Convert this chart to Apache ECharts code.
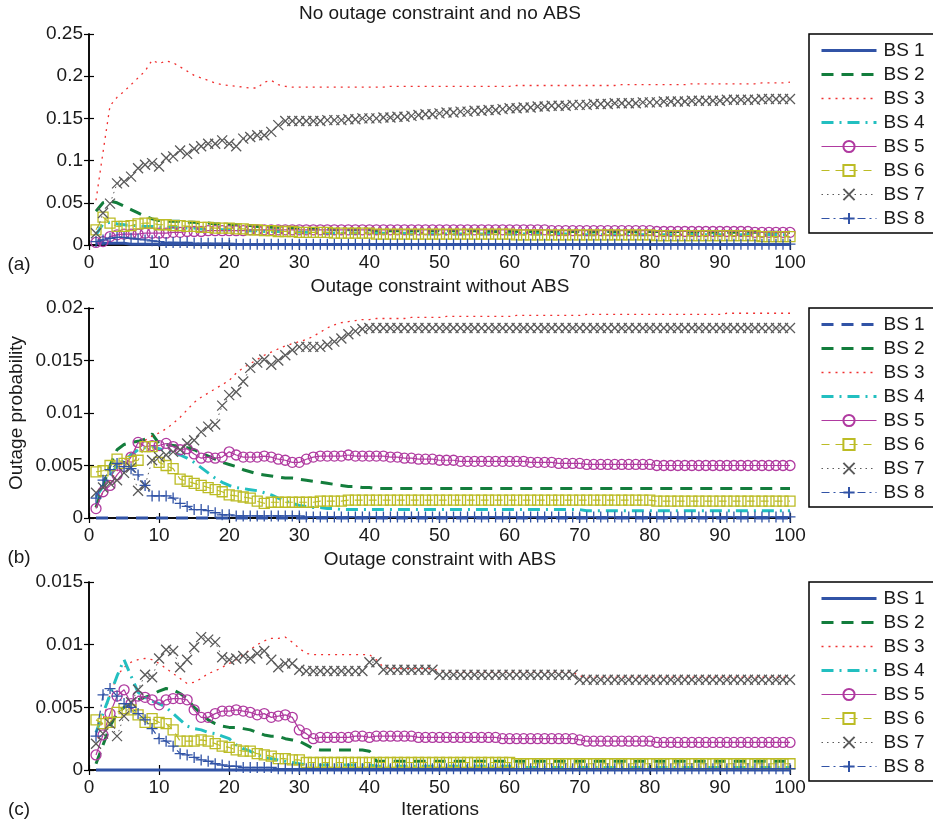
<!DOCTYPE html>
<html><head><meta charset="utf-8">
<script src="https://cdn.jsdelivr.net/npm/echarts@6/dist/echarts.min.js"></script>
<style>html,body{margin:0;padding:0;background:#fff}#c{width:933px;height:826px}</style>
</head><body><div id="c"></div>
<script>
const iterations = [1,2,3,4,5,6,7,8,9,10,11,12,13,14,15,16,17,18,19,20,21,22,23,24,25,26,27,28,29,30,31,32,33,34,35,36,37,38,39,40,41,42,43,44,45,46,47,48,49,50,51,52,53,54,55,56,57,58,59,60,61,62,63,64,65,66,67,68,69,70,71,72,73,74,75,76,77,78,79,80,81,82,83,84,85,86,87,88,89,90,91,92,93,94,95,96,97,98,99,100];
const seriesNames = ['BS 1','BS 2','BS 3','BS 4','BS 5','BS 6','BS 7','BS 8'];
const panelTitles = ['No outage constraint and no ABS','Outage constraint without ABS','Outage constraint with ABS'];
const panelLetters = ['(a)','(b)','(c)'];
const xTicks = [0,10,20,30,40,50,60,70,80,90,100];
const yTicksA = [0,0.05,0.1,0.15,0.2,0.25];
const yTicksB = [0,0.005,0.01,0.015,0.02];
const yTicksC = [0,0.005,0.01,0.015];

// ---- Panel (a): No outage constraint and no ABS ----
const a1 = [0.002,0.002,0.002,0.002,0.002,0.001,0.001,0.001,0.001,0.001,
0.001,0.001,0.001,0.001,0.001,0.001,0.001,0.001,0.001,0.001,
0.0005,0.0005,0.0005,0.0005,0.0005,0.0005,0.0005,0.0005,0.0005,0.0005,
0.0005,0.0005,0.0005,0.0005,0.0005,0.0005,0.0005,0.0005,0.0005,0.0005,
0.0005,0.0005,0.0005,0.0005,0.0005,0.0005,0.0005,0.0005,0.0005,0.0005,
0.0005,0.0005,0.0005,0.0005,0.0005,0.0005,0.0005,0.0005,0.0005,0.0005,
0.0005,0.0005,0.0005,0.0005,0.0005,0.0005,0.0005,0.0005,0.0005,0.0005,
0.0005,0.0005,0.0005,0.0005,0.0005,0.0005,0.0005,0.0005,0.0005,0.0005,
0.0005,0.0005,0.0005,0.0005,0.0005,0.0005,0.0005,0.0005,0.0005,0.0005,
0.0005,0.0005,0.0005,0.0005,0.0005,0.0005,0.0005,0.0005,0.0005,0.0005];
const a2 = [0.040,0.050,0.052,0.050,0.046,0.042,0.038,0.034,0.031,0.029,
0.028,0.028,0.028,0.027,0.027,0.026,0.026,0.025,0.025,0.024,
0.024,0.023,0.023,0.022,0.022,0.021,0.021,0.020,0.020,0.020,
0.019,0.019,0.019,0.019,0.018,0.018,0.018,0.018,0.018,0.018,
0.017,0.017,0.017,0.017,0.017,0.017,0.017,0.017,0.017,0.017,
0.017,0.017,0.017,0.017,0.017,0.016,0.016,0.016,0.016,0.016,
0.016,0.016,0.016,0.016,0.016,0.016,0.016,0.016,0.016,0.016,
0.016,0.016,0.016,0.016,0.016,0.016,0.016,0.016,0.016,0.016,
0.016,0.016,0.016,0.016,0.016,0.015,0.015,0.015,0.015,0.015,
0.015,0.015,0.015,0.015,0.015,0.015,0.015,0.015,0.015,0.015];
const a3 = [0.053,0.110,0.165,0.175,0.182,0.190,0.198,0.206,0.219,0.215,
0.218,0.216,0.211,0.206,0.201,0.198,0.195,0.192,0.190,0.189,
0.188,0.187,0.186,0.186,0.193,0.195,0.190,0.188,0.187,0.187,
0.187,0.187,0.187,0.187,0.187,0.187,0.187,0.187,0.187,0.187,
0.187,0.187,0.188,0.188,0.188,0.188,0.188,0.188,0.188,0.188,
0.188,0.188,0.188,0.188,0.188,0.188,0.188,0.188,0.188,0.188,
0.189,0.189,0.189,0.189,0.189,0.189,0.189,0.189,0.189,0.189,
0.189,0.189,0.189,0.189,0.189,0.190,0.190,0.190,0.190,0.190,
0.190,0.190,0.190,0.190,0.190,0.191,0.191,0.191,0.191,0.191,
0.191,0.191,0.191,0.191,0.191,0.192,0.192,0.192,0.192,0.193];
const a4 = [0.012,0.025,0.027,0.025,0.024,0.023,0.023,0.022,0.022,0.021,
0.021,0.021,0.020,0.020,0.020,0.019,0.019,0.019,0.018,0.018,
0.018,0.017,0.017,0.017,0.016,0.016,0.016,0.015,0.015,0.015,
0.015,0.015,0.014,0.014,0.014,0.014,0.014,0.014,0.014,0.014,
0.014,0.014,0.014,0.014,0.014,0.013,0.013,0.013,0.013,0.013,
0.013,0.013,0.013,0.013,0.013,0.013,0.013,0.013,0.013,0.013,
0.013,0.013,0.013,0.013,0.013,0.013,0.013,0.013,0.013,0.013,
0.012,0.012,0.012,0.012,0.012,0.012,0.012,0.012,0.012,0.012,
0.012,0.012,0.012,0.012,0.012,0.012,0.012,0.012,0.012,0.012,
0.012,0.012,0.012,0.012,0.012,0.012,0.012,0.012,0.012,0.012];
const a5 = [0.003,0.004,0.010,0.012,0.013,0.013,0.013,0.014,0.014,0.014,
0.014,0.015,0.015,0.016,0.016,0.016,0.017,0.017,0.017,0.017,
0.017,0.017,0.018,0.018,0.018,0.018,0.018,0.018,0.018,0.018,
0.018,0.018,0.018,0.018,0.018,0.018,0.018,0.018,0.018,0.018,
0.018,0.018,0.018,0.018,0.018,0.018,0.018,0.018,0.018,0.018,
0.018,0.018,0.018,0.018,0.018,0.018,0.018,0.018,0.018,0.018,
0.018,0.018,0.018,0.018,0.018,0.017,0.017,0.017,0.017,0.017,
0.017,0.017,0.017,0.017,0.017,0.017,0.017,0.017,0.017,0.017,
0.016,0.016,0.016,0.016,0.016,0.016,0.016,0.016,0.016,0.016,
0.016,0.016,0.016,0.016,0.015,0.015,0.015,0.015,0.015,0.015];
const a6 = [0.018,0.033,0.026,0.022,0.022,0.023,0.025,0.026,0.026,0.024,
0.024,0.023,0.023,0.022,0.022,0.021,0.021,0.020,0.020,0.020,
0.019,0.019,0.018,0.018,0.017,0.017,0.016,0.016,0.016,0.015,
0.015,0.015,0.015,0.015,0.014,0.014,0.014,0.014,0.014,0.014,
0.013,0.013,0.013,0.013,0.013,0.013,0.013,0.013,0.013,0.013,
0.013,0.013,0.013,0.013,0.013,0.013,0.013,0.013,0.013,0.013,
0.012,0.012,0.012,0.012,0.012,0.012,0.012,0.012,0.012,0.012,
0.012,0.012,0.012,0.012,0.012,0.012,0.012,0.012,0.012,0.012,
0.011,0.011,0.011,0.011,0.011,0.011,0.011,0.011,0.011,0.011,
0.011,0.011,0.011,0.011,0.011,0.010,0.010,0.010,0.010,0.010];
const a7 = [0.014,0.038,0.049,0.073,0.075,0.081,0.091,0.095,0.097,0.093,
0.103,0.105,0.112,0.108,0.114,0.117,0.120,0.120,0.124,0.120,
0.117,0.126,0.128,0.130,0.130,0.134,0.142,0.147,0.147,0.147,
0.147,0.147,0.147,0.148,0.148,0.148,0.149,0.149,0.150,0.150,
0.150,0.151,0.151,0.152,0.152,0.153,0.154,0.155,0.155,0.156,
0.157,0.157,0.158,0.158,0.159,0.159,0.160,0.160,0.161,0.162,
0.162,0.163,0.163,0.164,0.164,0.165,0.165,0.165,0.166,0.166,
0.166,0.167,0.167,0.167,0.168,0.168,0.168,0.168,0.169,0.169,
0.169,0.170,0.170,0.170,0.170,0.171,0.171,0.171,0.171,0.171,
0.172,0.172,0.172,0.172,0.172,0.173,0.173,0.173,0.173,0.173];
const a8 = [0.004,0.006,0.008,0.009,0.009,0.008,0.007,0.006,0.005,0.004,
0.003,0.003,0.003,0.003,0.002,0.002,0.002,0.002,0.002,0.002,
0.001,0.001,0.001,0.001,0.001,0.001,0.001,0.001,0.001,0.001,
0.001,0.001,0.001,0.001,0.001,0.001,0.001,0.001,0.001,0.001,
0.001,0.001,0.001,0.001,0.001,0.001,0.001,0.001,0.001,0.001,
0.001,0.001,0.001,0.001,0.001,0.001,0.001,0.001,0.001,0.001,
0.001,0.001,0.001,0.001,0.001,0.001,0.001,0.001,0.001,0.001,
0.001,0.001,0.001,0.001,0.001,0.001,0.001,0.001,0.001,0.001,
0.001,0.001,0.001,0.001,0.001,0.001,0.001,0.001,0.001,0.001,
0.001,0.001,0.001,0.001,0.001,0.001,0.001,0.001,0.001,0.001];

// ---- Panel (b): Outage constraint without ABS ----
const b1 = [0,0,0,0,0,0,0,0,0,0, 0,0,0,0,0,0,0,0,0,0, 0,0,0,0,0,0,0,0,0,0, 0,0,0,0,0,0,0,0,0,0, 0,0,0,0,0,0,0,0,0,0,
0,0,0,0,0,0,0,0,0,0, 0,0,0,0,0,0,0,0,0,0, 0,0,0,0,0,0,0,0,0,0, 0,0,0,0,0,0,0,0,0,0, 0,0,0,0,0,0,0,0,0,0];
const b2 = [0.0010,0.0030,0.0050,0.0065,0.0070,0.0072,0.0073,0.0075,0.0080,0.0071,
0.0070,0.0069,0.0068,0.0067,0.0065,0.0062,0.0059,0.0056,0.0053,0.0051,
0.0049,0.0046,0.0044,0.0042,0.0041,0.0040,0.0039,0.0038,0.0038,0.0037,
0.0036,0.0035,0.0034,0.0033,0.0032,0.0031,0.0030,0.0030,0.0029,0.0029,
0.0028,0.0028,0.0028,0.0028,0.0028,0.0028,0.0028,0.0028,0.0028,0.0028,
0.0028,0.0028,0.0028,0.0028,0.0028,0.0028,0.0028,0.0028,0.0028,0.0028,
0.0028,0.0028,0.0028,0.0028,0.0028,0.0028,0.0028,0.0028,0.0028,0.0028,
0.0028,0.0028,0.0028,0.0028,0.0028,0.0028,0.0028,0.0028,0.0028,0.0028,
0.0028,0.0028,0.0028,0.0028,0.0028,0.0028,0.0028,0.0028,0.0028,0.0028,
0.0028,0.0028,0.0028,0.0028,0.0028,0.0028,0.0028,0.0028,0.0028,0.0028];
const b3 = [0.0010,0.0025,0.0035,0.0045,0.0055,0.0062,0.0068,0.0074,0.0078,0.0081,
0.0085,0.0090,0.0096,0.0103,0.0110,0.0115,0.0119,0.0123,0.0127,0.0131,
0.0138,0.0143,0.0147,0.0151,0.0155,0.0158,0.0161,0.0164,0.0166,0.0168,
0.0170,0.0173,0.0177,0.0181,0.0184,0.0186,0.0187,0.0188,0.0189,0.0189,
0.0190,0.0190,0.0190,0.0190,0.0190,0.0191,0.0191,0.0191,0.0191,0.0191,
0.0192,0.0192,0.0192,0.0192,0.0192,0.0192,0.0192,0.0192,0.0192,0.0192,
0.0193,0.0193,0.0193,0.0193,0.0193,0.0193,0.0193,0.0193,0.0193,0.0193,
0.0194,0.0194,0.0194,0.0194,0.0194,0.0194,0.0194,0.0194,0.0194,0.0194,
0.0194,0.0194,0.0194,0.0194,0.0194,0.0194,0.0194,0.0194,0.0194,0.0194,
0.0195,0.0195,0.0195,0.0195,0.0195,0.0195,0.0195,0.0195,0.0195,0.0195];
const b4 = [0.0020,0.0030,0.0040,0.0050,0.0055,0.0060,0.0065,0.0067,0.0068,0.0066,
0.0064,0.0062,0.0060,0.0057,0.0053,0.0048,0.0043,0.0038,0.0034,0.0031,
0.0029,0.0028,0.0027,0.0026,0.0024,0.0022,0.0019,0.0016,0.0014,0.0012,
0.0011,0.0010,0.0010,0.0009,0.0009,0.0008,0.0008,0.0008,0.0008,0.0008,
0.0008,0.0008,0.0008,0.0008,0.0008,0.0008,0.0008,0.0008,0.0008,0.0008,
0.0008,0.0008,0.0008,0.0008,0.0008,0.0008,0.0008,0.0008,0.0008,0.0008,
0.0008,0.0008,0.0008,0.0008,0.0008,0.0008,0.0008,0.0008,0.0008,0.0008,
0.0007,0.0007,0.0007,0.0007,0.0007,0.0007,0.0007,0.0007,0.0007,0.0007,
0.0007,0.0007,0.0007,0.0007,0.0007,0.0007,0.0007,0.0007,0.0007,0.0007,
0.0007,0.0007,0.0007,0.0007,0.0007,0.0007,0.0007,0.0007,0.0007,0.0007];
const b5 = [0.0009,0.0025,0.0031,0.0041,0.0049,0.0058,0.0072,0.0068,0.0069,0.0069,
0.0071,0.0068,0.0065,0.0066,0.0061,0.0057,0.0058,0.0057,0.0058,0.0063,
0.0060,0.0058,0.0058,0.0058,0.0059,0.0058,0.0056,0.0055,0.0053,0.0053,
0.0056,0.0058,0.0059,0.0059,0.0059,0.0059,0.0060,0.0059,0.0059,0.0059,
0.0059,0.0059,0.0058,0.0058,0.0057,0.0057,0.0056,0.0056,0.0056,0.0055,
0.0055,0.0055,0.0054,0.0054,0.0054,0.0054,0.0054,0.0054,0.0054,0.0054,
0.0054,0.0054,0.0053,0.0053,0.0053,0.0053,0.0052,0.0052,0.0052,0.0052,
0.0051,0.0051,0.0051,0.0051,0.0051,0.0051,0.0051,0.0051,0.0051,0.0051,
0.0050,0.0050,0.0050,0.0050,0.0050,0.0050,0.0050,0.0050,0.0050,0.0050,
0.0050,0.0050,0.0050,0.0050,0.0050,0.0050,0.0050,0.0050,0.0050,0.0050];
const b6 = [0.0044,0.0045,0.0050,0.0056,0.0052,0.0054,0.0055,0.0068,0.0068,0.0053,
0.0050,0.0047,0.0037,0.0035,0.0033,0.0031,0.0029,0.0027,0.0025,0.0022,
0.0021,0.0020,0.0019,0.0016,0.0014,0.0015,0.0015,0.0015,0.0015,0.0015,
0.0015,0.0015,0.0016,0.0016,0.0016,0.0016,0.0017,0.0017,0.0017,0.0017,
0.0017,0.0017,0.0017,0.0017,0.0017,0.0017,0.0017,0.0017,0.0017,0.0017,
0.0017,0.0017,0.0017,0.0017,0.0017,0.0017,0.0017,0.0017,0.0017,0.0017,
0.0017,0.0017,0.0017,0.0017,0.0017,0.0017,0.0017,0.0017,0.0017,0.0017,
0.0017,0.0017,0.0017,0.0017,0.0017,0.0017,0.0017,0.0017,0.0017,0.0017,
0.0016,0.0016,0.0016,0.0016,0.0016,0.0016,0.0016,0.0016,0.0016,0.0016,
0.0016,0.0016,0.0016,0.0016,0.0016,0.0016,0.0016,0.0016,0.0016,0.0016];
const b7 = [0.0024,0.0029,0.0033,0.0036,0.0043,0.0048,0.0026,0.0031,0.0055,0.0058,
0.0060,0.0063,0.0065,0.0071,0.0074,0.0082,0.0087,0.0089,0.0107,0.0117,
0.0120,0.0130,0.0143,0.0148,0.0151,0.0146,0.0150,0.0155,0.0160,0.0163,
0.0163,0.0163,0.0163,0.0165,0.0168,0.0171,0.0175,0.0178,0.0180,0.0181,
0.0181,0.0181,0.0181,0.0181,0.0181,0.0181,0.0181,0.0181,0.0181,0.0181,
0.0181,0.0181,0.0181,0.0181,0.0181,0.0181,0.0181,0.0181,0.0181,0.0181,
0.0181,0.0181,0.0181,0.0181,0.0181,0.0181,0.0181,0.0181,0.0181,0.0181,
0.0181,0.0181,0.0181,0.0181,0.0181,0.0181,0.0181,0.0181,0.0181,0.0181,
0.0181,0.0181,0.0181,0.0181,0.0181,0.0181,0.0181,0.0181,0.0181,0.0181,
0.0181,0.0181,0.0181,0.0181,0.0181,0.0181,0.0181,0.0181,0.0181,0.0181];
const b8 = [0.0019,0.0036,0.0046,0.0052,0.0049,0.0047,0.0041,0.0031,0.0021,0.0021,
0.0021,0.0019,0.0014,0.0011,0.0008,0.0008,0.0007,0.0005,0.0003,0.0003,
0.0002,0.0002,0.0002,0.0002,0.0002,0.0002,0.0002,0.0002,0.0002,0.0002,
0.0001,0.0001,0.0001,0.0001,0.0001,0.0001,0.0001,0.0001,0.0001,0.0001,
0.0001,0.0001,0.0001,0.0001,0.0001,0.0001,0.0001,0.0001,0.0001,0.0001,
0.0001,0.0001,0.0001,0.0001,0.0001,0.0001,0.0001,0.0001,0.0001,0.0001,
0.0001,0.0001,0.0001,0.0001,0.0001,0.0001,0.0001,0.0001,0.0001,0.0001,
0.0001,0.0001,0.0001,0.0001,0.0001,0.0001,0.0001,0.0001,0.0001,0.0001,
0.0001,0.0001,0.0001,0.0001,0.0001,0.0001,0.0001,0.0001,0.0001,0.0001,
0.0001,0.0001,0.0001,0.0001,0.0001,0.0001,0.0001,0.0001,0.0001,0.0001];

// ---- Panel (c): Outage constraint with ABS ----
const c1 = [0,0,0,0,0,0,0,0,0,0, 0,0,0,0,0,0,0,0,0,0, 0,0,0,0,0,0,0,0,0,0, 0,0,0,0,0,0,0,0,0,0, 0,0,0,0,0,0,0,0,0,0,
0,0,0,0,0,0,0,0,0,0, 0,0,0,0,0,0,0,0,0,0, 0,0,0,0,0,0,0,0,0,0, 0,0,0,0,0,0,0,0,0,0, 0,0,0,0,0,0,0,0,0,0];
const c2 = [0.0005,0.0020,0.0035,0.0045,0.0050,0.0053,0.0056,0.0058,0.0060,0.0063,
0.0065,0.0064,0.0061,0.0057,0.0050,0.0045,0.0040,0.0037,0.0035,0.0034,
0.0034,0.0033,0.0032,0.0030,0.0028,0.0027,0.0027,0.0025,0.0024,0.0023,
0.0020,0.0017,0.0016,0.0016,0.0016,0.0016,0.0016,0.0016,0.0016,0.0015,
0.0007,0.0007,0.0007,0.0007,0.0007,0.0007,0.0007,0.0007,0.0007,0.0007,
0.0007,0.0007,0.0007,0.0007,0.0007,0.0007,0.0007,0.0007,0.0007,0.0007,
0.0007,0.0007,0.0007,0.0007,0.0007,0.0007,0.0007,0.0007,0.0007,0.0007,
0.0007,0.0007,0.0007,0.0007,0.0007,0.0007,0.0007,0.0007,0.0007,0.0007,
0.0007,0.0007,0.0007,0.0007,0.0007,0.0007,0.0007,0.0007,0.0007,0.0007,
0.0007,0.0007,0.0007,0.0007,0.0007,0.0007,0.0007,0.0007,0.0007,0.0007];
const c3 = [0.0020,0.0040,0.0060,0.0075,0.0082,0.0086,0.0088,0.0089,0.0088,0.0085,
0.0081,0.0077,0.0073,0.0069,0.0070,0.0073,0.0077,0.0079,0.0082,0.0085,
0.0088,0.0092,0.0096,0.0100,0.0103,0.0105,0.0105,0.0106,0.0102,0.0097,
0.0093,0.0092,0.0092,0.0092,0.0092,0.0092,0.0092,0.0092,0.0092,0.0092,
0.0088,0.0082,0.0081,0.0081,0.0081,0.0081,0.0081,0.0081,0.0081,0.0079,
0.0078,0.0078,0.0078,0.0078,0.0078,0.0078,0.0078,0.0078,0.0078,0.0078,
0.0078,0.0078,0.0078,0.0078,0.0078,0.0078,0.0078,0.0078,0.0078,0.0075,
0.0074,0.0074,0.0074,0.0074,0.0074,0.0074,0.0074,0.0074,0.0074,0.0074,
0.0074,0.0074,0.0074,0.0074,0.0074,0.0074,0.0074,0.0074,0.0074,0.0074,
0.0074,0.0074,0.0074,0.0074,0.0074,0.0074,0.0074,0.0074,0.0074,0.0074];
const c4 = [0.0030,0.0045,0.0060,0.0075,0.0088,0.0075,0.0062,0.0058,0.0055,0.0053,
0.0050,0.0045,0.0040,0.0035,0.0033,0.0032,0.0030,0.0029,0.0027,0.0025,
0.0020,0.0017,0.0015,0.0012,0.0010,0.0009,0.0008,0.0007,0.0006,0.0005,
0.0004,0.0004,0.0004,0.0004,0.0004,0.0004,0.0004,0.0004,0.0004,0.0004,
0.0003,0.0003,0.0003,0.0003,0.0003,0.0003,0.0003,0.0003,0.0003,0.0003,
0.0003,0.0003,0.0003,0.0003,0.0003,0.0003,0.0003,0.0003,0.0003,0.0003,
0.0002,0.0002,0.0002,0.0002,0.0002,0.0002,0.0002,0.0002,0.0002,0.0002,
0.0002,0.0002,0.0002,0.0002,0.0002,0.0002,0.0002,0.0002,0.0002,0.0002,
0.0002,0.0002,0.0002,0.0002,0.0002,0.0002,0.0002,0.0002,0.0002,0.0002,
0.0002,0.0002,0.0002,0.0002,0.0002,0.0002,0.0002,0.0002,0.0002,0.0002];
const c5 = [0.0012,0.0028,0.0045,0.0059,0.0064,0.0053,0.0059,0.0058,0.0056,0.0052,
0.0056,0.0057,0.0057,0.0056,0.0048,0.0042,0.0042,0.0045,0.0047,0.0047,
0.0048,0.0047,0.0046,0.0044,0.0045,0.0042,0.0043,0.0044,0.0042,0.0032,
0.0029,0.0025,0.0026,0.0026,0.0026,0.0026,0.0026,0.0027,0.0027,0.0026,
0.0027,0.0027,0.0027,0.0027,0.0027,0.0027,0.0026,0.0026,0.0026,0.0026,
0.0026,0.0026,0.0026,0.0026,0.0026,0.0026,0.0026,0.0026,0.0025,0.0025,
0.0025,0.0025,0.0025,0.0025,0.0025,0.0025,0.0025,0.0025,0.0025,0.0024,
0.0023,0.0023,0.0023,0.0023,0.0023,0.0023,0.0023,0.0023,0.0023,0.0023,
0.0022,0.0022,0.0022,0.0022,0.0022,0.0022,0.0022,0.0022,0.0022,0.0022,
0.0022,0.0022,0.0022,0.0022,0.0022,0.0022,0.0022,0.0022,0.0022,0.0022];
const c6 = [0.0040,0.0037,0.0038,0.0046,0.0049,0.0048,0.0044,0.0038,0.0041,0.0038,
0.0037,0.0032,0.0023,0.0023,0.0023,0.0024,0.0023,0.0021,0.0019,0.0018,
0.0016,0.0015,0.0015,0.0013,0.0012,0.0011,0.0009,0.0009,0.0008,0.0008,
0.0006,0.0006,0.0006,0.0006,0.0006,0.0006,0.0006,0.0006,0.0006,0.0006,
0.0006,0.0006,0.0006,0.0006,0.0006,0.0006,0.0006,0.0006,0.0006,0.0006,
0.0006,0.0006,0.0006,0.0006,0.0006,0.0006,0.0006,0.0006,0.0006,0.0006,
0.0005,0.0005,0.0005,0.0005,0.0005,0.0005,0.0005,0.0005,0.0005,0.0005,
0.0005,0.0005,0.0005,0.0005,0.0005,0.0005,0.0005,0.0005,0.0005,0.0005,
0.0005,0.0005,0.0005,0.0005,0.0005,0.0005,0.0005,0.0005,0.0005,0.0005,
0.0005,0.0005,0.0005,0.0005,0.0005,0.0005,0.0005,0.0005,0.0005,0.0005];
const c7 = [0.0021,0.0029,0.0037,0.0027,0.0043,0.0054,0.0064,0.0076,0.0074,0.0089,
0.0096,0.0095,0.0082,0.0088,0.0098,0.0106,0.0104,0.0102,0.0090,0.0088,
0.0089,0.0091,0.0089,0.0093,0.0095,0.0088,0.0082,0.0085,0.0085,0.0080,
0.0079,0.0079,0.0079,0.0079,0.0079,0.0079,0.0079,0.0079,0.0079,0.0086,
0.0086,0.0080,0.0080,0.0080,0.0080,0.0080,0.0080,0.0080,0.0080,0.0076,
0.0076,0.0076,0.0076,0.0076,0.0076,0.0076,0.0076,0.0076,0.0076,0.0076,
0.0076,0.0076,0.0076,0.0076,0.0076,0.0076,0.0076,0.0076,0.0076,0.0072,
0.0072,0.0072,0.0072,0.0072,0.0072,0.0072,0.0072,0.0072,0.0072,0.0072,
0.0072,0.0072,0.0072,0.0072,0.0072,0.0072,0.0072,0.0072,0.0072,0.0072,
0.0072,0.0072,0.0072,0.0072,0.0072,0.0072,0.0072,0.0072,0.0072,0.0072];
const c8 = [0.0027,0.0060,0.0065,0.0059,0.0053,0.0050,0.0045,0.0040,0.0033,0.0025,
0.0023,0.0019,0.0013,0.0012,0.0010,0.0008,0.0007,0.0005,0.0004,0.0003,
0.0003,0.0002,0.0002,0.0002,0.0002,0.0002,0.0001,0.0001,0.0001,0.0001,
0.0001,0.0001,0.0001,0.0001,0.0001,0.0001,0.0001,0.0001,0.0001,0.0001,
0.0001,0.0001,0.0001,0.0001,0.0001,0.0001,0.0001,0.0001,0.0001,0.0001,
0.0001,0.0001,0.0001,0.0001,0.0001,0.0001,0.0001,0.0001,0.0001,0.0001,
0.0001,0.0001,0.0001,0.0001,0.0001,0.0001,0.0001,0.0001,0.0001,0.0001,
0.0001,0.0001,0.0001,0.0001,0.0001,0.0001,0.0001,0.0001,0.0001,0.0001,
0.0001,0.0001,0.0001,0.0001,0.0001,0.0001,0.0001,0.0001,0.0001,0.0001,
0.0001,0.0001,0.0001,0.0001,0.0001,0.0001,0.0001,0.0001,0.0001,0.0001];

const panelData = [[a1,a2,a3,a4,a5,a6,a7,a8],[b1,b2,b3,b4,b5,b6,b7,b8],[c1,c2,c3,c4,c5,c6,c7,c8]];
const panelYTicks = [yTicksA, yTicksB, yTicksC];

// ---- styling ----
const FONT = '"Liberation Sans", Arial, Helvetica, sans-serif';
const TXT = '#1a1a1a';
const grids = [
  {left: 89, top: 34, width: 701, height: 211},
  {left: 89, top: 308, width: 701, height: 210},
  {left: 89, top: 582, width: 701, height: 188}
];
const legendTops = [34, 308, 582];
const NONE = 'rgba(0,0,0,0)';
const BLUE = '#3153a6', GREEN = '#137d3c', RED = '#f03030', CYAN = '#22bfc0',
      MAG = '#b03aa0', YEL = '#bcbc25', GRAY = '#5a5a5a';
function look(p, k) {
  switch (k) {
    case 0: return {color: BLUE, line: {width: 3, type: p === 1 ? [12, 8] : 'solid'}};
    case 1: return {color: GREEN, line: {width: 3, type: [12, 8]}};
    case 2: return {color: RED, line: {width: 1.3, type: [2, 5]}};
    case 3: return {color: CYAN, line: {width: 3, type: [12, 6, 2, 6]}};
    case 4: return {color: MAG, line: {width: 1.2, type: 'solid'}, symbol: 'circle', size: 10};
    case 5: return {color: YEL, line: {width: 1.2, type: [8, 6]}, symbol: 'rect', size: 10};
    case 6: return {color: GRAY, line: {width: 1, type: [1.5, 4]}, symbol: 'path://M0,0L10,10M10,0L0,10', size: 10};
    case 7: return {color: BLUE, line: {width: 1.2, type: [8, 4, 2, 4]}, symbol: 'path://M5,0L5,10M0,5L10,5', size: 11};
  }
}

const xAxis = [], yAxis = [], series = [], legend = [];
grids.forEach((g, p) => {
  const yt = panelYTicks[p];
  const ymax = yt[yt.length - 1], yint = yt[1] - yt[0];
  const axLine = {show: true, lineStyle: {color: '#000', width: 1.5}};
  const tick = {show: true, inside: true, length: 5, lineStyle: {color: '#000', width: 1.2}};
  xAxis.push({type: 'value', gridIndex: p, position: 'bottom', min: xTicks[0], max: xTicks[xTicks.length - 1], interval: xTicks[1] - xTicks[0],
    axisLine: axLine, axisTick: tick, splitLine: {show: false},
    axisLabel: {fontFamily: FONT, fontSize: 19, color: TXT, margin: 8}});
  xAxis.push({type: 'value', gridIndex: p, position: 'top', min: xTicks[0], max: xTicks[xTicks.length - 1], interval: xTicks[1] - xTicks[0],
    axisLine: axLine, axisTick: tick, splitLine: {show: false}, axisLabel: {show: false}});
  yAxis.push({type: 'value', gridIndex: p, position: 'left', min: 0, max: ymax, interval: yint,
    axisLine: axLine, axisTick: tick, splitLine: {show: false},
    axisLabel: {fontFamily: FONT, fontSize: 19, color: TXT, margin: 6}});
  yAxis.push({type: 'value', gridIndex: p, position: 'right', min: 0, max: ymax, interval: yint,
    axisLine: axLine, axisTick: tick, splitLine: {show: false}, axisLabel: {show: false}});
  const legendItems = [];
  panelData[p].forEach((arr, k) => {
    const L = look(p, k);
    const hasMarker = !!L.symbol;
    const name = 'abc'[p] + (k + 1);
    legendItems.push({name: name, lineStyle: {width: L.line.width, type: L.line.type, color: L.color}});
    series.push({
      type: 'line', name: name, xAxisIndex: 2 * p, yAxisIndex: 2 * p,
      data: iterations.map((x, i) => [x, arr[i]]),
      symbol: hasMarker ? L.symbol : 'circle', symbolSize: hasMarker ? L.size : 4,
      showSymbol: hasMarker, showAllSymbol: true,
      lineStyle: {color: L.color, width: L.line.width, type: L.line.type, cap: 'butt'},
      itemStyle: {color: NONE, borderColor: hasMarker ? L.color : NONE, borderWidth: hasMarker ? 1.3 : 0},
      clip: false, animation: false, silent: true, z: 2 + k
    });
  });
  legend.push({
    data: legendItems, orient: 'vertical', left: 809, top: legendTops[p],
    itemWidth: 55, itemHeight: 14, itemGap: 5,
    padding: [7, 45, 5, 11], borderColor: '#000', borderWidth: 1.5, backgroundColor: '#fff',
    selectedMode: false, inactiveColor: '#000',
    formatter: n => seriesNames[Number(n.slice(1)) - 1],
    textStyle: {fontFamily: FONT, fontSize: 19, color: TXT, lineHeight: 19, padding: [0, 0, 0, 2]}
  });
});

const textStyle = (t) => ({text: t, font: '19px ' + FONT, fill: TXT, textAlign: 'center', textVerticalAlign: 'middle'});
const graphic = [
  {type: 'text', x: 440, y: 14, style: textStyle(panelTitles[0])},
  {type: 'text', x: 440, y: 287, style: textStyle(panelTitles[1])},
  {type: 'text', x: 440, y: 560, style: textStyle(panelTitles[2])},
  {type: 'text', x: 19, y: 265, style: textStyle(panelLetters[0])},
  {type: 'text', x: 19, y: 558, style: textStyle(panelLetters[1])},
  {type: 'text', x: 19, y: 810, style: textStyle(panelLetters[2])},
  {type: 'text', x: 440, y: 810, style: textStyle('Iterations')},
  {type: 'text', x: 17, y: 413, rotation: Math.PI / 2, style: textStyle('Outage probability')}
];

const chart = echarts.init(document.getElementById('c'), null, {renderer: 'canvas'});
chart.setOption({
  backgroundColor: '#fff', animation: false,
  grid: grids.map(g => Object.assign({containLabel: false}, g)),
  xAxis, yAxis, series, legend, graphic
});
</script></body></html>
